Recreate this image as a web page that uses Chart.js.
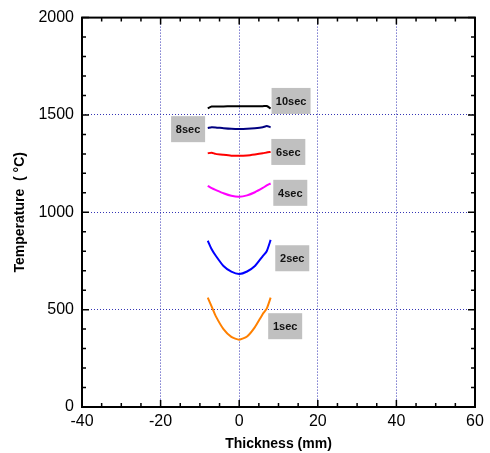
<!DOCTYPE html>
<html lang="en">
  <head>
    <meta charset="UTF-8" />
    <title>Temperature vs Thickness</title>
    <script src="https://cdn.jsdelivr.net/npm/chart.js@4/dist/chart.umd.min.js"></script>
    <style>
      html, body { margin: 0; padding: 0; background: #fff; }
      #wrap { width: 490px; height: 453px; }
    </style>
  </head>
  <body>
    <div id="wrap"><canvas id="myChart" width="490" height="453"></canvas></div>
    <script>
      // thickness positions (mm)
      const thickness = [-8, -7, -6, -4, -2, 0, 2, 4, 6, 7, 8];

      // temperatures (°C) for each heating time
      const temp1s  = [562, 515, 468, 400, 360, 346, 362, 410, 478, 505, 562];
      const temp2s  = [854, 810, 778, 724, 695, 683, 696, 724, 775, 800, 858];
      const temp4s  = [1136, 1124, 1115, 1098, 1085, 1080, 1087, 1103, 1125, 1138, 1148];
      const temp6s  = [1303, 1306, 1300, 1295, 1291, 1290, 1292, 1297, 1303, 1307, 1310];
      const temp8s  = [1433, 1437, 1436, 1432, 1429, 1428, 1429, 1432, 1437, 1443, 1437];
      const temp10s = [1534, 1543, 1544, 1544, 1545, 1545, 1545, 1545, 1545, 1546, 1533];

      const seriesNames = ["1sec", "2sec", "4sec", "6sec", "8sec", "10sec"];
      const seriesData = [temp1s, temp2s, temp4s, temp6s, temp8s, temp10s];
      const seriesColors = ["#FF8000", "#0000FF", "#FF00FF", "#FF0000", "#000080", "#000000"];

      // label box positions, in data units
      const labelX = [11.7, 13.5, 13, 12.5, -13, 13.2];
      const labelY = [415, 764, 1100, 1310, 1427, 1572];

      const datasets = seriesNames.map((name, i) => ({
        label: name,
        data: thickness.map((t, j) => ({ x: t, y: seriesData[i][j] })),
        borderColor: seriesColors[i],
        backgroundColor: seriesColors[i],
        borderWidth: 2,
        pointRadius: 0,
        tension: 0.2,
        fill: false,
      }));

      const axisFont = { family: "'Liberation Sans', Arial, sans-serif", size: 16 };
      const titleFont = { family: "'Liberation Sans', Arial, sans-serif", size: 14, weight: "bold" };

      function gridColor(ctx) {
        const v = ctx.tick.value;
        const s = ctx.scale;
        if (v === s.min || v === s.max) return "rgba(0,0,0,0)";
        return "#3535B5";
      }

      // frame, inward ticks and label boxes
      const framePlugin = {
        id: "frame",
        afterDraw(chart) {
          const c = chart.ctx;
          const a = chart.chartArea;
          const xs = chart.scales.x;
          const ys = chart.scales.y;
          c.save();
          c.strokeStyle = "#000";
          c.lineWidth = 1.5;
          c.beginPath();
          for (let v = -40; v <= 60; v += 5) {
            const px = xs.getPixelForValue(v);
            const len = v % 20 === 0 ? 7 : 4;
            c.moveTo(px, a.bottom); c.lineTo(px, a.bottom - len);
            c.moveTo(px, a.top); c.lineTo(px, a.top + len);
          }
          for (let v = 0; v <= 2000; v += 100) {
            const py = ys.getPixelForValue(v);
            const len = v % 500 === 0 ? 7 : 4;
            c.moveTo(a.left, py); c.lineTo(a.left + len, py);
            c.moveTo(a.right, py); c.lineTo(a.right - len, py);
          }
          c.stroke();
          c.lineWidth = 2;
          c.strokeRect(a.left, a.top, a.right - a.left, a.bottom - a.top);

          // label boxes
          c.font = "bold 11px 'Liberation Sans', Arial, sans-serif";
          c.textAlign = "center";
          c.textBaseline = "middle";
          for (let i = 0; i < seriesNames.length; i++) {
            const px = xs.getPixelForValue(labelX[i]);
            const py = ys.getPixelForValue(labelY[i]);
            const w = seriesNames[i].length > 4 ? 39 : 34;
            c.fillStyle = "#C0C0C0";
            c.fillRect(px - w / 2, py - 13, w, 26);
            c.fillStyle = "#111";
            c.fillText(seriesNames[i], px, py + 1);
          }
          c.restore();
        },
      };

      const ctx = document.getElementById("myChart").getContext("2d");
      const myChart = new Chart(ctx, {
        type: "line",
        data: { datasets: datasets },
        options: {
          responsive: false,
          animation: false,
          layout: { padding: { left: 0, right: 15, top: 14, bottom: 0 } },
          plugins: { legend: { display: false }, tooltip: { enabled: false } },
          scales: {
            x: {
              type: "linear",
              min: -40,
              max: 60,
              ticks: { stepSize: 20, color: "#000", font: axisFont, padding: 5, maxRotation: 0,
                callback: (v) => String(v) },
              grid: { color: gridColor, lineWidth: 1, drawTicks: false },
              border: { display: false, dash: [1, 2] },
              title: { display: true, text: "Thickness (mm)", color: "#000", font: titleFont, padding: { top: 2, bottom: 0 } },
              afterFit(scale) { scale.height = 46; },
            },
            y: {
              min: 0,
              max: 2000,
              ticks: { stepSize: 500, color: "#000", font: axisFont, padding: 8,
                callback: (v) => String(v) },
              grid: { color: gridColor, lineWidth: 1, drawTicks: false },
              border: { display: false, dash: [1, 2] },
              title: { display: true, text: "Temperature  ( °C)", color: "#000", font: titleFont, padding: { top: 12, bottom: 0 } },
              afterFit(scale) { scale.width = 82; },
            },
          },
        },
        plugins: [framePlugin],
      });
    </script>
  </body>
</html>
